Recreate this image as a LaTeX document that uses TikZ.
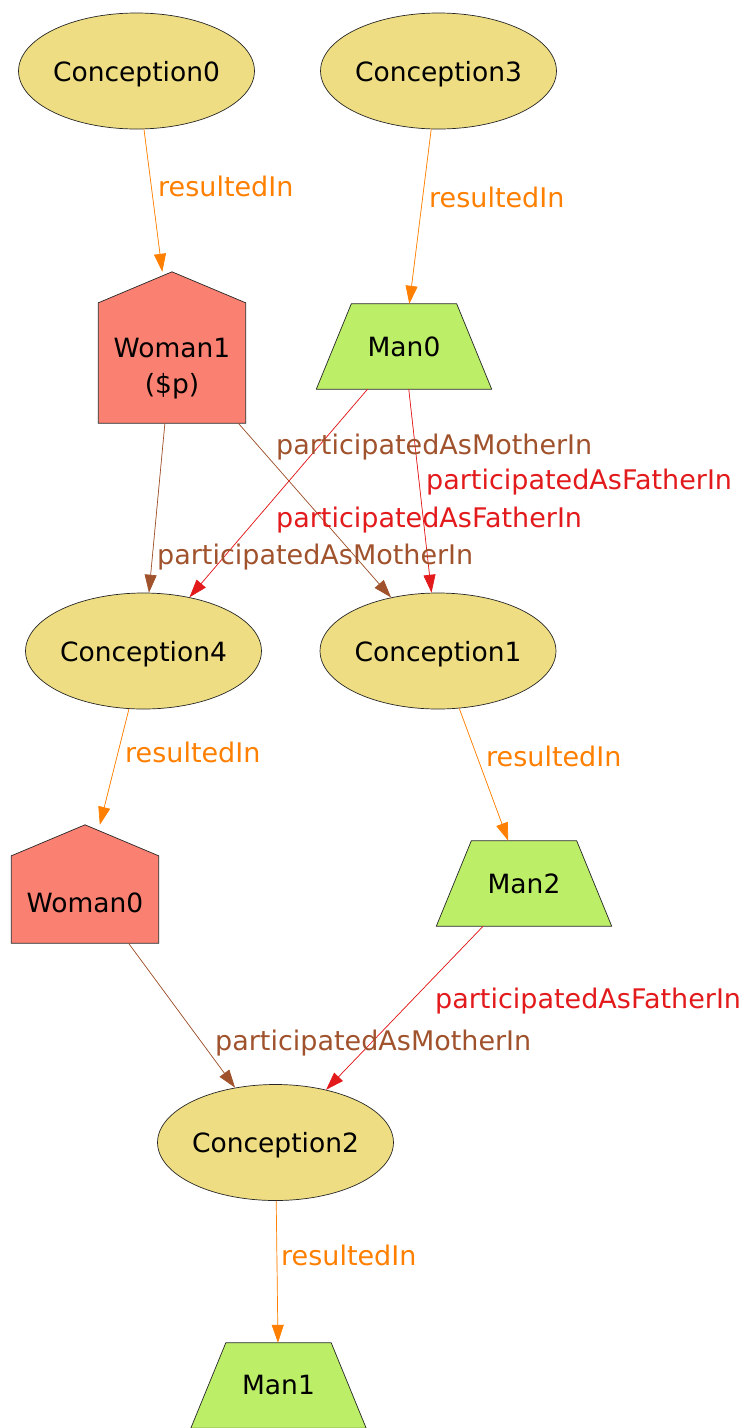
\documentclass[tikz,border=0pt]{standalone}
\usepackage{fontspec}
\setmainfont{DejaVu Sans}
\usetikzlibrary{arrows.meta,shapes.geometric,backgrounds,calc}

\definecolor{conceptfill}{HTML}{EEDD82}
\definecolor{womanfill}{HTML}{FA8072}
\definecolor{manfill}{HTML}{BCEE68}
\definecolor{resultedcol}{HTML}{FF7F00}
\definecolor{mothercol}{HTML}{A0522D}
\definecolor{fathercol}{HTML}{E31A1C}

% house outline over a rectangle node: #1 node name, #2 roof height
\newcommand\drawhouse[2]{%
  \filldraw[shapeline, fill=womanfill] (#1.south west) -- (#1.south east)
    -- ($(#1.north east)+(0,#2)$) -- (#1.north) -- ($(#1.north west)+(0,#2)$) -- cycle;}
% trapezium outline over a rectangle node: #1 node name, #2 inset of the top edge
\newcommand\drawtrap[2]{%
  \filldraw[shapeline, fill=manfill] (#1.south west) -- (#1.south east)
    -- ($(#1.north east)+(-#2,0)$) -- ($(#1.north west)+(#2,0)$) -- cycle;}

\begin{document}
\begin{tikzpicture}[x=1pt,y=-1pt,
  font=\fontsize{26.5}{36}\selectfont,
  shapeline/.style={draw=black!85, line width=0.7pt},
  conception/.style={ellipse, shapeline, fill=conceptfill,
    minimum width=231pt, minimum height=116pt, inner sep=0pt, text depth=0pt},
  housebox/.style={rectangle, inner sep=0pt, minimum width=147pt},
  manbox/.style={rectangle, inner sep=0pt, minimum width=175pt, minimum height=85pt},
  lbl/.style={anchor=base west, inner sep=0pt, font=\fontsize{27}{32}\selectfont},
  edge/.style={line width=0.7pt, -{Triangle[length=18pt,width=12pt]}},
  resulted/.style={edge, draw=resultedcol, fill=resultedcol},
  mother/.style={edge, draw=mothercol, fill=mothercol},
  father/.style={edge, draw=fathercol, fill=fathercol}]

\useasboundingbox (0,0) rectangle (746,1428);

% conceptions
\node[conception] (c0) at (136.5,71) {Conception0};
\node[conception] (c3) at (438.5,71) {Conception3};
\node[conception] (c4) at (143.5,651) {Conception4};
\node[conception] (c1) at (438,651) {Conception1};
\node[conception] (c2) at (275.5,1142.5) {Conception2};

% women
\node[housebox, minimum height=151pt,
  label={[yshift=-21pt, align=center]center:{Woman1\\(\$p)}}] (w1) at (172,347.5) {};
\node[housebox, minimum height=118pt,
  label={[yshift=-18.5pt]center:Woman0}] (w0) at (85,884) {};

% men
\node[manbox] (m0) at (404,346.5) {Man0};
\node[manbox] (m2) at (524,883.5) {Man2};
\node[manbox] (m1) at (278.5,1385.5) {Man1};

\begin{scope}[on background layer]
  \drawhouse{w1}{31}
  \drawhouse{w0}{31}
  \drawtrap{m0}{35}
  \drawtrap{m2}{35}
  \drawtrap{m1}{35}
\end{scope}

% edges
\draw[resulted] (c0) -- (w1);
\draw[resulted] (c3) -- (m0);
\draw[mother] (w1) -- (c4);
\draw[mother] (w1) -- (c1);
\draw[father] (m0) -- (c4);
\draw[father] (m0) -- (c1);
\draw[resulted] (c4) -- (w0);
\draw[resulted] (c1) -- (m2);
\draw[mother] (w0) -- (c2);
\draw[father] (m2) -- (c2);
\draw[resulted] (c2) -- (m1);

% edge labels
\node[lbl, text=resultedcol] (l1) at (158,196) {resultedIn};
\node[lbl, text=resultedcol] (l2) at (429,207) {resultedIn};
\node[lbl, text=mothercol] (l3) at (276,454) {participatedAsMotherIn};
\node[lbl, text=fathercol] (l4) at (426,489) {participatedAsFatherIn};
\node[lbl, text=fathercol] (l5) at (276,527) {participatedAsFatherIn};
\node[lbl, text=mothercol] (l6) at (157,564) {participatedAsMotherIn};
\node[lbl, text=resultedcol] (l7) at (125,762) {resultedIn};
\node[lbl, text=resultedcol] (l8) at (486,766) {resultedIn};
\node[lbl, text=fathercol] (l9) at (435,1008) {participatedAsFatherIn};
\node[lbl, text=mothercol] (l10) at (215,1050) {participatedAsMotherIn};
\node[lbl, text=resultedcol] (l11) at (281,1265) {resultedIn};
\end{tikzpicture}
\end{document}
